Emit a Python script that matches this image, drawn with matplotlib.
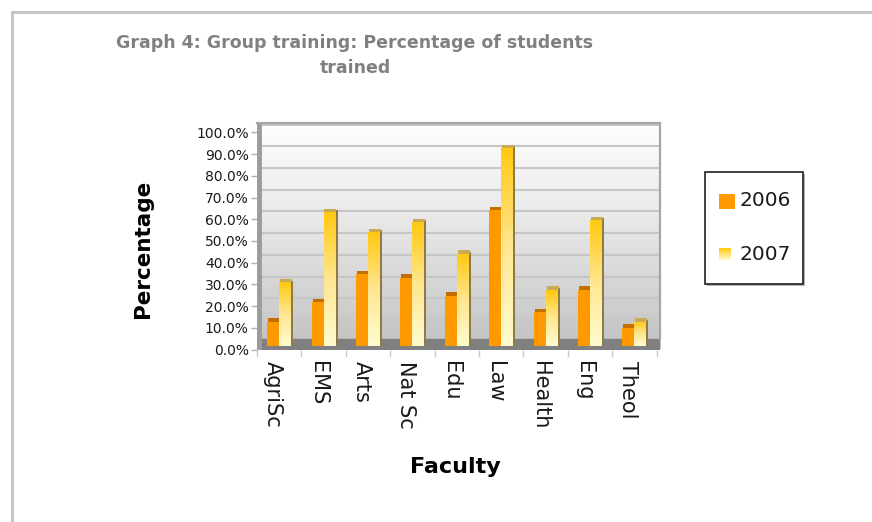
import numpy as np
import matplotlib
matplotlib.use('Agg')
import matplotlib.pyplot as plt
import matplotlib.transforms as mtrans
from matplotlib.colors import LinearSegmentedColormap
from matplotlib.patches import Rectangle
from matplotlib.lines import Line2D

# ---------------- data ----------------
categories = ['AgriSc', 'EMS', 'Arts', 'Nat Sc', 'Edu', 'Law', 'Health', 'Eng', 'Theol']
pct_2006 = [11.1, 20.1, 33.0, 31.3, 23.0, 62.5, 15.5, 25.7, 8.3]
pct_2007 = [29.2, 61.5, 52.4, 57.0, 42.3, 91.1, 25.7, 57.9, 11.1]
series_labels = ['2006', '2007']
y_ticks = [0, 10, 20, 30, 40, 50, 60, 70, 80, 90, 100]
title_text = 'Graph 4: Group training: Percentage of students\ntrained'
x_title = 'Faculty'
y_title = 'Percentage'

plt.rcParams['font.family'] = ['DejaVu Sans']

W, H = 872, 522
fig = plt.figure(figsize=(W / 100, H / 100), dpi=100)
fig.patch.set_facecolor('white')


def fx(px):
    return px / W


def fy(py):
    return 1 - py / H


# outer grey frame (top & left)
fig.add_artist(Line2D([fx(12), fx(12)], [0, fy(12)], color='#c6c6c6', lw=2.2,
                      transform=fig.transFigure))
fig.add_artist(Line2D([fx(12), 1], [fy(12), fy(12)], color='#c6c6c6', lw=2.2,
                      transform=fig.transFigure))

# ---------------- axes ----------------
left_px, right_px, bottom_px, top_px = 257, 660, 349.5, 122.7
ax = fig.add_axes([fx(left_px), fy(bottom_px), (right_px - left_px) / W,
                   (bottom_px - top_px) / H])
n = len(categories)
x = np.arange(n)
XLIM = (-0.5, n - 0.5 + 0.075)
YLIM = (0, 104.5)
base = 1.75        # front face base (3D floor offset)
wall = 3.6         # back-wall offset for gridlines

# back wall gradient
wall_cmap = LinearSegmentedColormap.from_list('wall', ['#c2c2c2', '#e4e4e4', '#ffffff'])
ax.imshow(np.linspace(0, 1, 256).reshape(-1, 1), extent=[0, 1, 0, 1],
          transform=ax.transAxes, origin='lower', aspect='auto', cmap=wall_cmap, zorder=0)

for v in y_ticks:
    ax.axhline(v + wall, color='#c6c6c6', lw=1.5, zorder=1)

# floor
ax.axhspan(0, 4.8, color='#808080', zorder=2)

w = 0.27
b06 = ax.bar(x - w / 2, pct_2006, w, bottom=base, color='#ff9900', zorder=3, linewidth=0)
b07 = ax.bar(x + w / 2, pct_2007, w, bottom=base, color='none', zorder=3, linewidth=0)

# 2006 top faces
ax.bar(x - w / 2 + 0.02, [1.6] * n, w, bottom=np.array(pct_2006) + base,
       color='#c46e00', zorder=3, linewidth=0)
# 2007 side shadow and top faces
ax.bar(x + w + 0.022, np.array(pct_2007) + 0.8, 0.045, bottom=base,
       color='#8c7b45', zorder=2.9, linewidth=0)
ax.bar(x + w / 2 + 0.02, [1.6] * n, w, bottom=np.array(pct_2007) + base,
       color='#c9aa55', zorder=3, linewidth=0)

grad_cmap = LinearSegmentedColormap.from_list('g07', ['#fffcd0', '#ffe690', '#ffc911'])
for r in b07.patches:
    x0, y0 = r.get_x(), r.get_y()
    im = ax.imshow(np.linspace(0, 1, 256).reshape(-1, 1),
                   extent=[x0, x0 + r.get_width(), y0, y0 + r.get_height()],
                   origin='lower', aspect='auto', cmap=grad_cmap, zorder=3.1)
    im.set_clip_path(r)

ax.set_xlim(*XLIM)
ax.set_ylim(*YLIM)

# wall borders
for s in ax.spines.values():
    s.set_visible(False)
ax.axvline(-0.5 + 0.04, color='#9c9c9c', lw=3.5, zorder=4)
ax.plot([XLIM[0], XLIM[1]], [YLIM[1] - 0.3, YLIM[1] - 0.3], color='#a6a6a6', lw=1.6,
        zorder=4, clip_on=False)
ax.plot([XLIM[1], XLIM[1]], [4.8, YLIM[1]], color='#a6a6a6', lw=1.6, zorder=4, clip_on=False)

# ticks
ax.set_yticks(y_ticks)
ax.set_yticklabels([f'{v:.1f}%' for v in y_ticks], fontsize=10, color='#1a1a1a')
ax.tick_params(axis='y', length=4.5, width=1, color='#b0b0b0', pad=1.5)
ax.set_xticks(x)
ax.set_xticklabels(categories, rotation=270, fontsize=15, color='#1a1a1a', va='top',
                   ha='center')
ax.tick_params(axis='x', length=0, pad=8)
shift = mtrans.ScaledTranslation(-0.06, 0, fig.dpi_scale_trans)
for lab in ax.get_xticklabels():
    lab.set_transform(lab.get_transform() + shift)
ax.set_xticks(np.arange(n + 1) - 0.5, minor=True)
ax.tick_params(axis='x', which='minor', length=5, width=1, color='#c8c8c8')

ax.set_xlabel(x_title, fontsize=16, fontweight='bold')
ax.xaxis.set_label_coords((455 - left_px) / (right_px - left_px),
                          (bottom_px - 467) / (bottom_px - top_px))
ax.xaxis.label.set_va('center')
ax.set_ylabel(y_title, fontsize=15.5, fontweight='bold')
ax.yaxis.set_label_coords((143 - left_px) / (right_px - left_px),
                          (bottom_px - 249) / (bottom_px - top_px))
ax.yaxis.label.set_va('center')

fig.text(fx(355), fy(55.5), title_text, ha='center', va='center', fontsize=12.5,
         fontweight='bold', color='#808080', linespacing=1.5)

# ---------------- legend (drawn box) ----------------
fig.add_artist(Rectangle((fx(706.5), fy(285.5)), fx(98), (284 - 172) / H,
                         transform=fig.transFigure, facecolor='#b4b4b4', edgecolor='none',
                         zorder=5))
fig.add_artist(Rectangle((fx(705), fy(284)), fx(98), (284 - 172) / H, transform=fig.transFigure,
                         facecolor='white', edgecolor='#202020', lw=1.2, zorder=6))
fig.add_artist(Rectangle((fx(719), fy(209)), fx(16), 15 / H, transform=fig.transFigure,
                         facecolor='#ff9900', edgecolor='none', zorder=7))
leg_cmap = LinearSegmentedColormap.from_list('lg', ['#fffcd0', '#ffc911'])
lax = fig.add_axes([fx(719), fy(260), fx(12), 12 / H], zorder=8)
lax.imshow(np.linspace(0, 1, 64).reshape(-1, 1), origin='lower', aspect='auto',
           cmap=leg_cmap, extent=[0, 1, 0, 1])
lax.set_axis_off()
for lbl, yc in zip(series_labels, [201, 255]):
    fig.text(fx(739), fy(yc), lbl, ha='left', va='center', fontsize=14.5, color='#1a1a1a',
             zorder=9)

fig.savefig('out.png', dpi=100)
